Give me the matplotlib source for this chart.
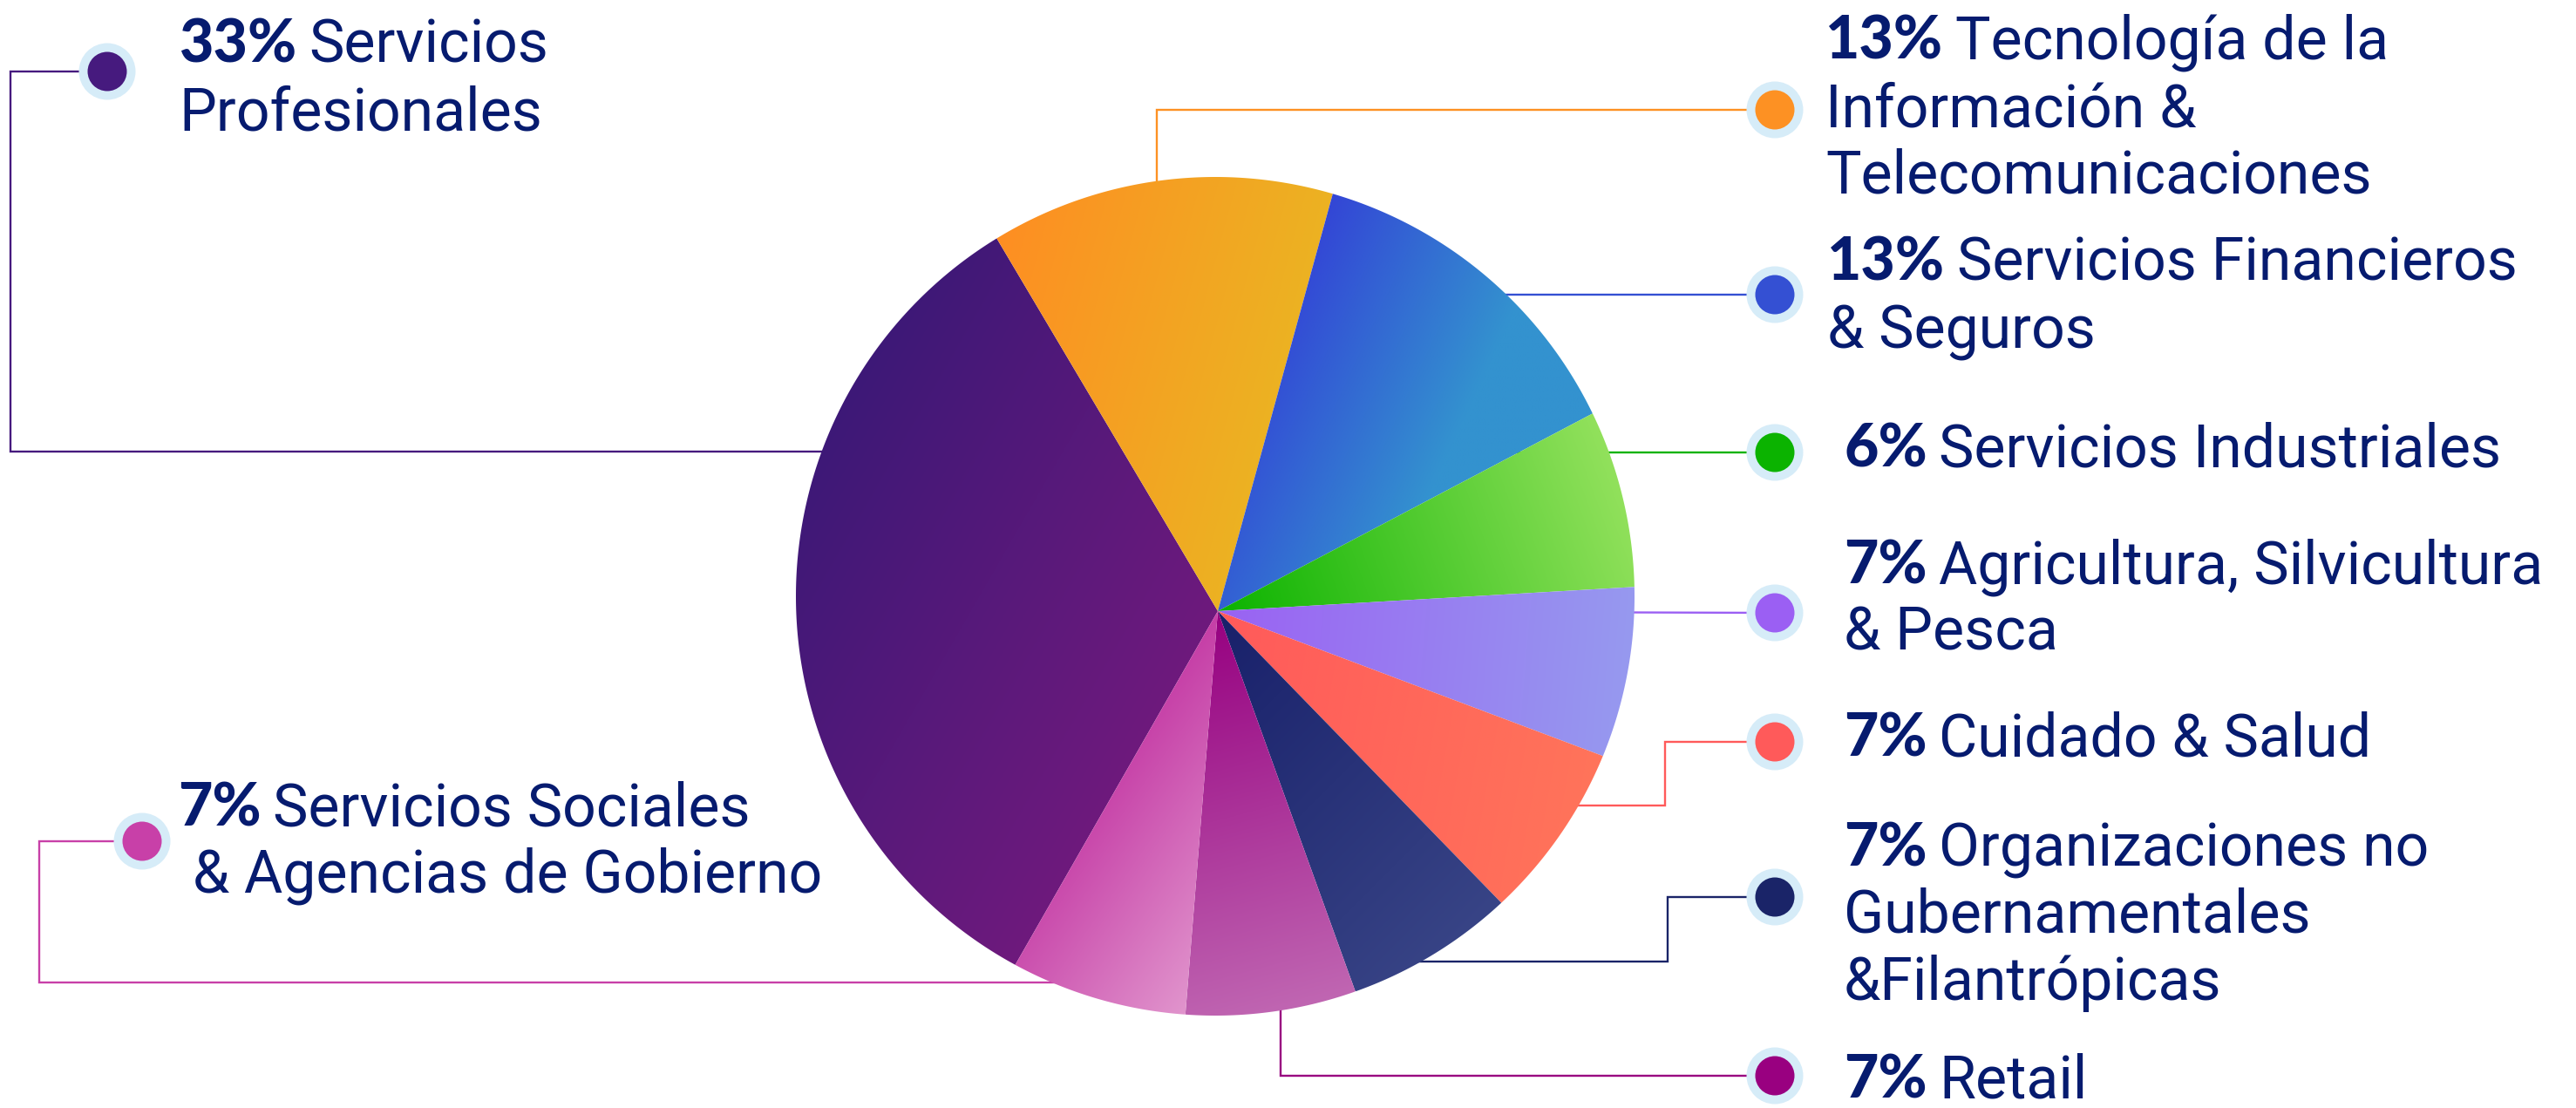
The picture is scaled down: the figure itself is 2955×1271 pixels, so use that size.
#!/usr/bin/env python3
"""Sector breakdown pie with gradient slices and leader-line labels."""

import matplotlib
matplotlib.use("Agg")
import matplotlib.pyplot as plt
import matplotlib.colors as mcolors
import matplotlib.patches as mpatches
import numpy as np

# ── Canvas (pixel units, y measured from the top) ──
W, H = 2955, 1271
DPI = 100

# ── Data ──
pct_labels = ["33%", "13%", "13%", "6%", "7%", "7%", "7%", "7%", "7%"]
# slice sizes as drawn in the picture (degrees / 3.6)
shares = [33.2, 12.8, 13.0, 6.8, 6.65, 7.0, 6.75, 6.8, 7.0]
label_lines = [
    ["Servicios", "Profesionales"],
    ["Tecnología de la", "Información &", "Telecomunicaciones"],
    ["Servicios Financieros", "& Seguros"],
    ["Servicios Industriales"],
    ["Agricultura, Silvicultura", "& Pesca"],
    ["Cuidado & Salud"],
    ["Organizaciones no", "Gubernamentales", "&Filantrópicas"],
    ["Retail"],
    ["Servicios Sociales", " & Agencias de Gobierno"],
]

# ── Colours ──
dot_colors = ["#461a7e", "#fd9123", "#3450d3", "#0bb300", "#9b5ff3",
              "#ff5a5a", "#1a2468", "#990080", "#c840a8"]
grad_from = ["#3d1877", "#fe8e22", "#3346d6", "#0bb300", "#9a62f3",
             "#ff5a5a", "#18206a", "#960080", "#c63fa7"]
grad_to = ["#6e1a7d", "#ecb222", "#3392cf", "#92e15c", "#9699ef",
           "#ff745a", "#384486", "#c066b2", "#e195cd"]
grad_angle = [-30, -15, -25, 20, -5, -10, -45, -75, -35]
grad_reach = [1.0, 1.0, 0.65, 1.0, 1.0, 1.0, 1.0, 1.0, 1.0]
TXT = "#061b6f"
HALO = "#d6ecf8"

# ── Layout ──
CX, CY, R = 1394, 684, 481          # outline circle
AX_, AY_ = 1397, 701                # apex where the slices meet
START = 240.2
FS = 49
LINE = 77
dot_xy = [(123, 82), (2036, 126), (2036, 338), (2036, 519), (2036, 703),
          (2036, 851), (2036, 1029), (2036, 1234), (163, 965)]
text_x = [205, 2094, 2096, 2115, 2115, 2115, 2115, 2115, 204]
baseline0 = [72, 68, 322, 536, 669, 867, 993, 1259, 947]
leaders = [
    [(1000, 518), (12, 518), (12, 82)],
    [(1327, 400), (1327, 126)],
    [(1600, 338)],
    [(1700, 519)],
    [(1700, 702)],
    [(1700, 924), (1910, 924), (1910, 851)],
    [(1550, 1103), (1913, 1103), (1913, 1029)],
    [(1469, 1000), (1469, 1234)],
    [(1300, 1127), (45, 1127), (45, 965)],
]

plt.rcParams["font.family"] = ["Roboto", "DejaVu Sans"]

fig = plt.figure(figsize=(W / DPI, H / DPI), dpi=DPI, facecolor="white")
ax = fig.add_axes([0, 0, 1, 1])

# ── Pie (angles from ax.pie, outline trimmed to the circle) ──
wedges, _ = ax.pie(shares, colors=grad_from, startangle=START, counterclock=False,
                   center=(AX_, H - AY_), radius=R * 1.2, frame=True,
                   wedgeprops=dict(linewidth=0, alpha=0))

apex = np.array([AX_, H - AY_], float)
cen = np.array([CX, H - CY], float)


def rim_angle(theta):
    """Angle on the outline circle hit by the ray leaving the apex at theta."""
    u = np.array([np.cos(np.radians(theta)), np.sin(np.radians(theta))])
    p = apex - cen
    b = u @ p
    s = -b + np.sqrt(b * b - (p @ p - R * R))
    q = apex + s * u - cen
    return np.degrees(np.arctan2(q[1], q[0]))


def slice_patch(w):
    a1, a2 = rim_angle(w.theta1), rim_angle(w.theta2)
    if a2 < a1:
        a2 += 360
    phi = np.radians(np.linspace(a1, a2, 200))
    arc = np.column_stack([cen[0] + R * np.cos(phi), cen[1] + R * np.sin(phi)])
    poly = mpatches.Polygon(np.vstack([apex, arc]), closed=True,
                            facecolor="none", edgecolor="none", zorder=2)
    ax.add_patch(poly)
    return poly


def fill_gradient(patch, c0, c1, angle, reach):
    verts = patch.get_xy()
    d = np.array([np.cos(np.radians(angle)), np.sin(np.radians(angle))])
    proj = verts @ d
    t0, t1 = proj.min(), proj.max()
    x0, y0 = verts.min(axis=0)
    x1, y1 = verts.max(axis=0)
    X, Y = np.meshgrid(np.linspace(x0, x1, 300), np.linspace(y0, y1, 300))
    T = np.clip((X * d[0] + Y * d[1] - t0) / ((t1 - t0) * reach), 0, 1)
    a = np.array(mcolors.to_rgb(c0))
    b = np.array(mcolors.to_rgb(c1))
    img = a + T[..., None] * (b - a)
    im = ax.imshow(img, extent=(x0, x1, y0, y1), origin="lower",
                   interpolation="bilinear", zorder=3)
    im.set_clip_path(patch)


for w, c0, c1, ang, rc in zip(wedges, grad_from, grad_to, grad_angle, grad_reach):
    fill_gradient(slice_patch(w), c0, c1, ang, rc)

# ── Leader lines + dots ──
for i, path in enumerate(leaders):
    pts = path + [dot_xy[i]]
    xs = [p[0] for p in pts]
    ys = [H - p[1] for p in pts]
    ax.plot(xs, ys, color=dot_colors[i], lw=1.7, zorder=1,
            solid_joinstyle="miter", solid_capstyle="butt")
    x, y = dot_xy[i]
    ax.add_patch(mpatches.Circle((x, H - y), 32.5, color=HALO, lw=0, zorder=4))
    ax.add_patch(mpatches.Circle((x, H - y), 22.5, color=dot_colors[i], lw=0, zorder=5))

# ── Labels ──
renderer = fig.canvas.get_renderer()
for i, lines in enumerate(label_lines):
    tx = text_x[i]
    by = H - baseline0[i]
    bold = ax.text(tx, by, pct_labels[i], fontsize=FS, fontweight="black",
                   family=["Lato", "Roboto", "DejaVu Sans"],
                   color=TXT, va="baseline", ha="left", zorder=6)
    bw = bold.get_window_extent(renderer).width
    ax.text(tx + bw + 0.2 * FS * DPI / 72, by, lines[0], fontsize=FS,
            color=TXT, va="baseline", ha="left", zorder=6)
    for k, line in enumerate(lines[1:], start=1):
        ax.text(tx, by - k * LINE, line, fontsize=FS, color=TXT,
                va="baseline", ha="left", zorder=6)

ax.set_xlim(0, W)
ax.set_ylim(0, H)
ax.set_aspect("equal")
ax.axis("off")

fig.savefig("out.png", dpi=DPI, facecolor="white")
